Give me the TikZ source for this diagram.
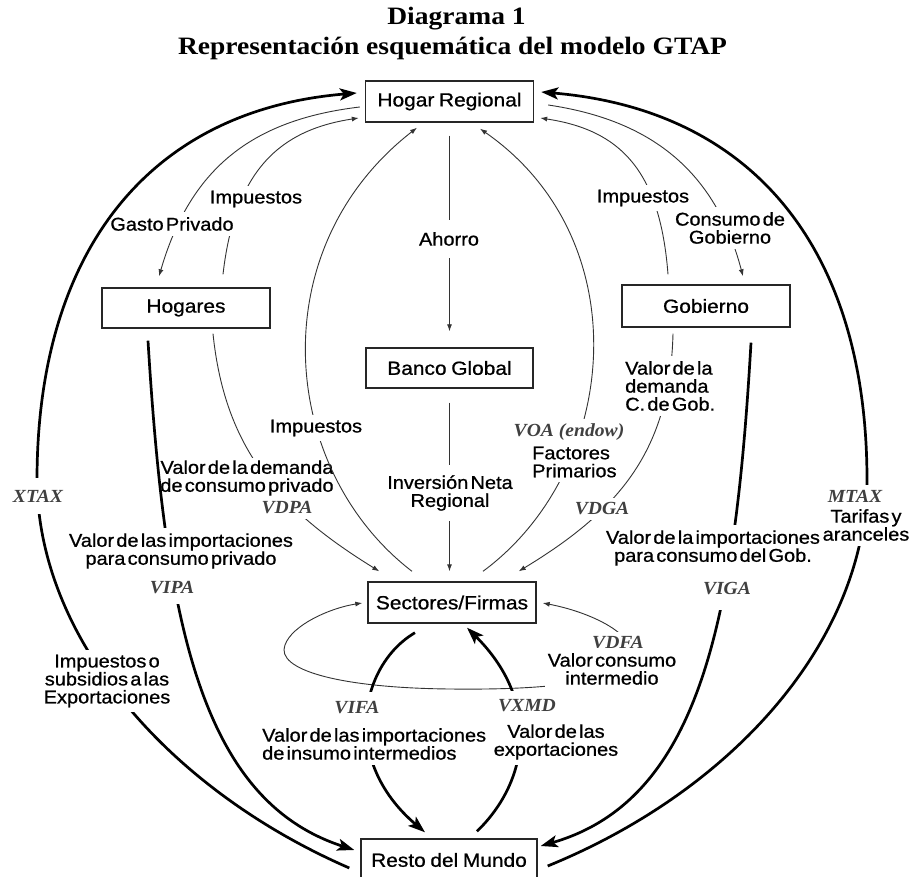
\documentclass[tikz,border=0pt]{standalone}
\usepackage{fontspec}
\usetikzlibrary{arrows.meta,calc}
\newfontfamily\labfont[FakeStretch=1.08,WordSpace=0.4,FakeBold=0.8]{Liberation Sans}
\newfontfamily\boxfont[FakeStretch=1.1,WordSpace=0.8,FakeBold=0.8]{Liberation Sans}
\newfontfamily\varfont[FakeStretch=1.06]{Liberation Serif}
\newfontfamily\titfont[FakeStretch=1.1]{Liberation Serif}
\begin{document}
\begin{tikzpicture}[x=1pt,y=-1pt,
  box/.style={draw=black!85,line width=1.4pt,fill=white,minimum width=168pt,minimum height=41pt,inner sep=0pt,font=\boxfont\fontsize{19}{19}\selectfont},
  lab/.style={fill=white,inner xsep=3pt,inner ysep=5pt,align=center,font=\labfont\fontsize{18.5}{18}\selectfont},
  var/.style={fill=white,inner xsep=3pt,inner ysep=5pt,text=black!75,font=\varfont\bfseries\itshape\fontsize{18.5}{18}\selectfont},
  thinarrow/.style={draw=black!80,line width=0.9pt,-{Latex[length=7pt,width=5pt]}},
  thickarrow/.style={draw=black,line width=2.7pt,-{Stealth[length=17pt,width=12pt,inset=4pt]}},
  titl/.style={font=\titfont\bfseries\fontsize{25}{25}\selectfont,anchor=base,inner sep=0pt}
]
\fill[white] (0,0) rectangle (911,877);
\useasboundingbox (0,0) rectangle (911,877);

% title
\node[titl] (t1) at (456.5,25) {Diagrama 1};
\node[titl] (t2) at (452.5,55) {Representación esquemática del modelo GTAP};

% boxes
\node[box] (hr) at (449.5,101.5) {Hogar Regional};
\node[box,minimum height=40pt] (hog) at (186,308) {Hogares};
\node[box,minimum height=42pt] (gob) at (706,306) {Gobierno};
\node[box,minimum width=167pt,minimum height=40pt] (bg) at (449.5,368) {Banco Global};
\node[box] (sf) at (452,602.5) {Sectores/Firmas};
\node[box,minimum width=176pt,minimum height=42pt] (rm) at (449,860) {Resto del Mundo};

% thin connectors
\draw[thinarrow] ($(hr.west)+(-5,5.5)$) .. controls (250,120) and (190,170) .. ($(hog.north)+(-27,-11)$);
\draw[thinarrow] ($(hog.north)+(37,-13)$) .. controls (235,170) and (280,130) .. ($(hr.west)+(-6,16.5)$);
\draw[thinarrow] ($(gob.north)+(-38,-10)$) .. controls (660,170) and (620,130) .. ($(hr.east)+(6,16.5)$);
\draw[thinarrow] ($(hr.east)+(14,3.5)$) .. controls (650,120) and (715,170) .. ($(gob.north)+(37,-8)$);
\draw[thinarrow,shorten <=13pt,shorten >=16pt] (hr.south) -- (bg.north);
\draw[thinarrow,shorten <=14pt,shorten >=10pt] (bg.south) -- (bg.south |- sf.north);
\draw[thinarrow] ($(sf.north)+(31,-10)$) .. controls (620,470) and (640,240) .. ($(hr.south)+(30.5,6)$);
\draw[thinarrow] ($(hog.south)+(27,5)$) .. controls (225,450) and (280,510) .. ($(sf.north west)+(12,-10)$);
\draw[thinarrow] ($(gob.south)+(-33,6)$) .. controls (670,450) and (620,510) .. ($(sf.north east)+(-18,-10)$);
\draw[thinarrow,{Latex[length=7pt,width=5pt]}-{Latex[length=7pt,width=5pt]}] ($(sf.east)+(6,0.5)$) .. controls (590,612) and (640,635) .. (630,660) .. controls (615,685) and (530,690) .. (450,689) .. controls (340,688) and (275,670) .. (285,645) .. controls (292,625) and (330,608) .. ($(sf.west)+(-5,0.5)$);

% thick connectors
\draw[thickarrow] ($(gob.south)+(45,15)$) .. controls (735,620) and (700,800) .. ($(rm.east)+(3,-14)$);
\draw[thickarrow] ($(sf.south)+(-37,9)$) .. controls (360,665) and (340,760) .. ($(rm.north)+(-24,-6)$);
\draw[thickarrow] ($(rm.north)+(28,-7)$) .. controls (530,780) and (540,700) .. ($(sf.south)+(15,4)$);

% labels
\node[lab] (l1) at (172,224) {Gasto Privado};
\node[lab] (l2) at (256,199) {Impuestos};
\node[lab,inner ysep=12pt] (l3) at (449,239) {Ahorro};
\node[lab] (l4) at (643,198) {Impuestos};
\node[lab] (l5) at (730,228) {Consumo de\\Gobierno};
\node[lab,inner ysep=10pt] (l7) at (450,493) {Inversión Neta\\Regional};
\node[var] (l8) at (569,432) {VOA (endow)};
\node[lab,align=left,anchor=west] (l9) at (529,462) {Factores\\Primarios};
\node[lab,align=left,anchor=west] (l10) at (622,386) {Valor de la\\demanda\\C. de Gob.};
\node[lab,inner sep=2pt] (l11) at (247,478) {Valor de la demanda\\de consumo privado};
\node[var] (l12) at (287,508) {VDPA};
\node[var] (l13) at (602,509) {VDGA};
\node[lab] (l18) at (713,548) {Valor de la importaciones\\para consumo del Gob.};
\node[var,inner ysep=15pt] (l20) at (727,589) {VIGA};
\node[var,inner ysep=10pt] (l22) at (357,708) {VIFA};
\node[var] (l24) at (618,643) {VDFA};
\node[lab] (l25) at (612,669) {Valor consumo\\intermedio};
\node[var,inner ysep=9pt] (l26) at (527,706) {VXMD};
\node[lab] (l27) at (556,742) {Valor de las\\exportaciones};
\node[lab,align=left,anchor=west] (l23) at (259,744) {Valor de las importaciones\\de insumo intermedios};

% central left arc
\draw[thinarrow] ($(sf.north)+(-40,-10)$) .. controls (280,470) and (260,250) .. ($(hr.south)+(-32.5,5)$);
\node[lab] (l6) at (316,428) {Impuestos};

% VIPA
\draw[thickarrow] ($(hog.south)+(-38,12)$) .. controls (165,620) and (200,800) .. ($(rm.west)+(-6,-10)$);
\node[lab] (l17) at (181,551) {Valor de las importaciones\\para consumo privado};
\node[var,inner ysep=10pt] (l19) at (172,588) {VIPA};

% outer arcs
\draw[thickarrow] ($(rm.west)+(-11,8)$) .. controls (170,790) and (38,640) .. (37,480) .. controls (37,250) and (150,110) .. ($(hr.west)+(-8,-8.5)$);
\draw[thickarrow] ($(rm.east)+(10,6)$) .. controls (734,790) and (866,640) .. (867,480) .. controls (867,250) and (754,110) .. ($(hr.east)+(7,-9.5)$);
\node[var,inner ysep=12pt] (l14) at (38,496) {XTAX};
\node[var] (l15) at (855,496) {MTAX};
\node[lab] (l16) at (866,525) {Tarifas y\\aranceles};
\node[lab] (l21) at (107,681) {Impuestos o\\subsidios a las\\Exportaciones};
\end{tikzpicture}
\end{document}
